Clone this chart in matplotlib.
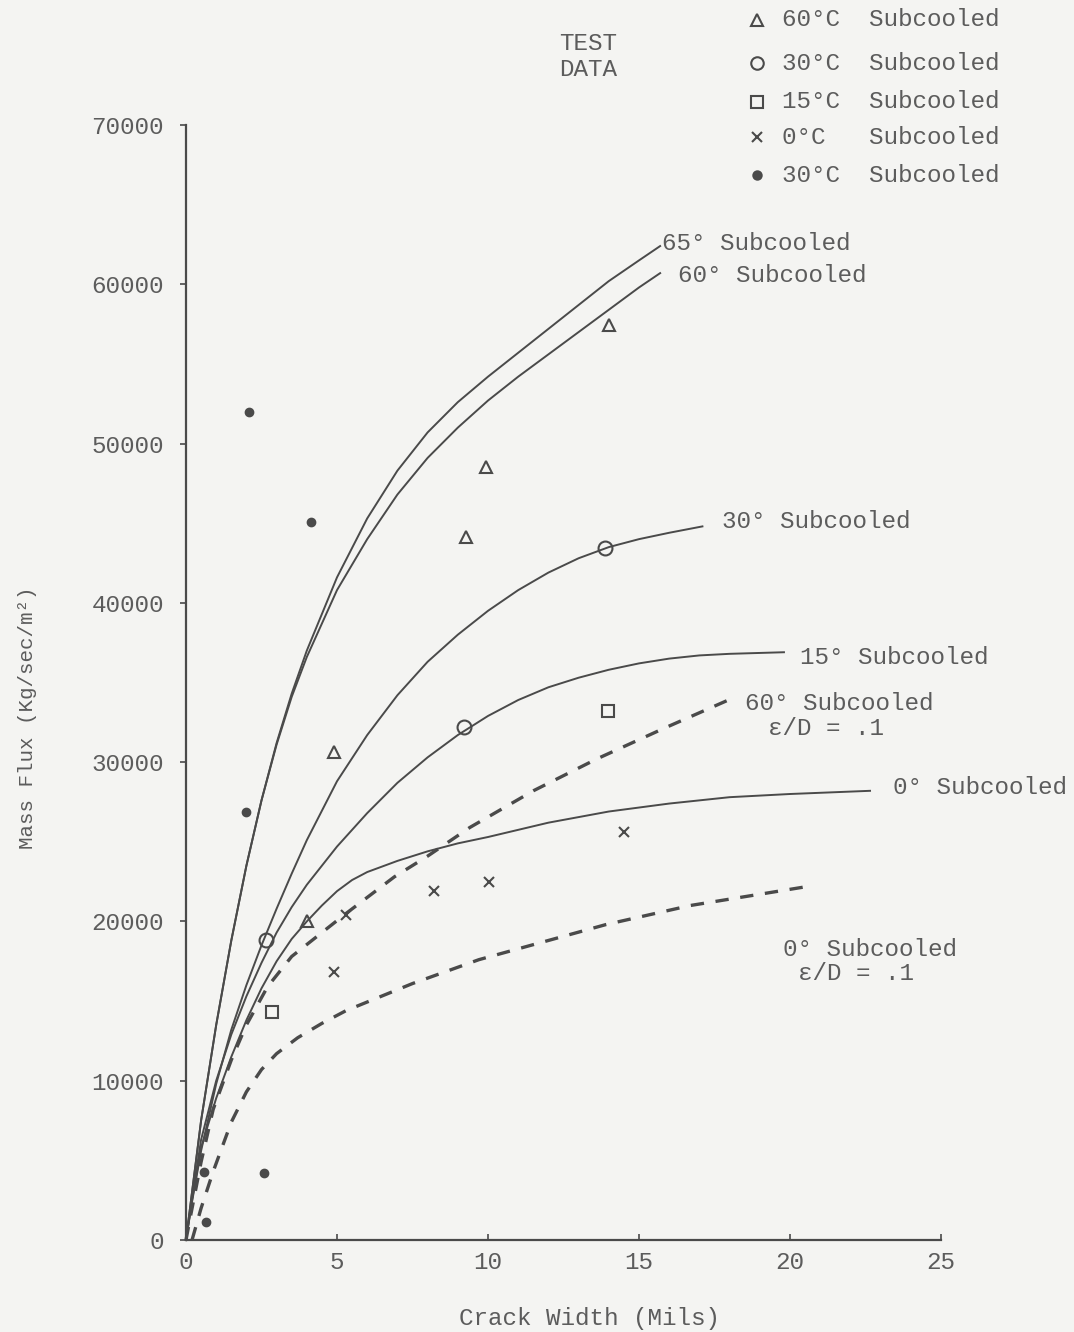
import numpy as np
import matplotlib.pyplot as plt

plt.rcParams['font.family'] = ['Liberation Mono', 'DejaVu Sans Mono']

# model curves (crack width in mils, mass flux in kg/sec/m2)
x65 = [0, 0.2, 0.5, 1.0, 1.5, 2.0, 2.5, 3.0, 3.5, 4.0, 5.0, 6.0, 7.0, 8.0, 9.0, 10.0, 11.0, 12.0, 13.0, 14.0, 15.0, 15.7]
y65 = [0, 3000, 7500, 13500, 18800, 23500, 27600, 31200, 34300, 37000, 41600, 45300, 48300, 50700, 52600, 54200,
       55700, 57200, 58700, 60200, 61500, 62400]
x60 = [0, 0.2, 0.5, 1.0, 1.5, 2.0, 2.5, 3.0, 3.5, 4.0, 5.0, 6.0, 7.0, 8.0, 9.0, 10.0, 11.0, 12.0, 13.0, 14.0, 15.0, 15.7]
y60 = [0, 3000, 7500, 13500, 18800, 23500, 27600, 31100, 34100, 36600, 40800, 44000, 46800, 49100, 51000, 52700,
       54200, 55600, 57000, 58400, 59800, 60700]
x30 = [0, 0.2, 0.5, 1.0, 1.5, 2.0, 2.5, 3.0, 3.5, 4.0, 5.0, 6.0, 7.0, 8.0, 9.0, 10.0, 11.0, 12.0, 13.0, 14.0, 15.0, 16.0, 17.1]
y30 = [0, 2400, 5600, 9800, 13200, 16000, 18500, 20800, 23000, 25100, 28800, 31700, 34200, 36300, 38000, 39500,
       40800, 41900, 42800, 43500, 44000, 44400, 44800]
x15 = [0, 0.2, 0.5, 1.0, 1.5, 2.0, 2.5, 3.0, 3.5, 4.0, 5.0, 6.0, 7.0, 8.0, 9.0, 10.0, 11.0, 12.0, 13.0, 14.0, 15.0, 16.0,
       17.0, 18.0, 19.8]
y15 = [0, 2600, 6300, 10000, 12900, 15300, 17400, 19300, 20900, 22300, 24700, 26800, 28700, 30300, 31700, 32900, 33900,
       34700, 35300, 35800, 36200, 36500, 36700, 36800, 36900]
x0 = [0, 0.2, 0.5, 1.0, 1.5, 2.0, 2.5, 3.0, 3.5, 4.0, 4.5, 5.0, 5.5, 6.0, 7.0, 8.0, 9.0, 10.0, 12.0, 14.0, 16.0, 18.0,
      20.0, 22.65]
y0 = [0, 2500, 5800, 8900, 11500, 13800, 15800, 17500, 18900, 20000, 21000, 21900, 22600, 23100, 23800, 24400, 24900,
      25300, 26200, 26900, 27400, 27800, 28000, 28200]
x60r = [0, 0.15, 0.5, 0.9, 1.5, 2.0, 2.7, 3.5, 4.5, 5.3, 6.9, 8.0, 9.4, 11.5, 13.6, 15.8, 18.2]
y60r = [0, 1500, 4900, 8200, 11300, 13500, 15900, 17800, 19300, 20500, 22800, 24100, 25900, 28200, 30200, 32100, 34100]
x0r = [0.2, 0.5, 0.9, 1.5, 2.0, 2.5, 3.0, 3.7, 4.5, 5.3, 7.5, 9.7, 11.8, 13.9, 16.7, 20.6]
y0r = [0, 2000, 4300, 7400, 9300, 10700, 11700, 12700, 13600, 14400, 16100, 17600, 18700, 19800, 21000, 22200]

# test data
tri_x = [14.0, 9.93, 9.27, 4.9, 4.0]
tri_y = [57440, 48520, 44130, 30630, 20000]
circ_x = [2.65, 9.2, 13.87]
circ_y = [18830, 32200, 43440]
sq_x = [2.85, 13.97]
sq_y = [14310, 33210]
cross_x = [4.9, 8.2, 10.03, 14.5, 5.3]
cross_y = [16820, 21910, 22470, 25610, 20400]
dot_x = [2.09, 4.14, 1.99, 2.58, 0.6, 0.66]
dot_y = [51980, 45070, 26870, 4210, 4270, 1130]

legend_labels = ['60°C  Subcooled', '30°C  Subcooled', '15°C  Subcooled', '0°C   Subcooled', '30°C  Subcooled']

ink = '#4a4a4a'
txt = '#5c5c5c'
bg = '#f4f4f2'
fs = 17.5

fig = plt.figure(figsize=(10.74, 13.32), dpi=100, facecolor=bg)
ax = fig.add_axes([186 / 1074, 1 - 1240 / 1332, 755 / 1074, 1115 / 1332])
ax.set_facecolor(bg)

for xs, ys in [(x65, y65), (x60, y60), (x30, y30), (x15, y15), (x0, y0)]:
    ax.plot(xs, ys, color=ink, lw=1.4, clip_on=False)
for xs, ys in [(x60r, y60r), (x0r, y0r)]:
    ax.plot(xs, ys, color=ink, lw=2.4, dashes=(4, 3.5), clip_on=False)

mk = dict(color=ink, ls='none', mfc='none', mec=ink, mew=1.5, clip_on=False)
ax.plot(tri_x, tri_y, marker='^', ms=9, **mk)
ax.plot(circ_x, circ_y, marker='o', ms=10, **mk)
ax.plot(sq_x, sq_y, marker='s', ms=9, **mk)
ax.plot(cross_x, cross_y, marker='x', ms=7, **mk)
ax.plot(dot_x, dot_y, marker='o', ms=6, color=ink, ls='none', clip_on=False)

# curve labels
tk = dict(color=txt, fontsize=fs, va='center', ha='left')
ax.text(15.76, 62590, '65° Subcooled', **tk)
ax.text(16.29, 60580, '60° Subcooled', **tk)
ax.text(17.75, 45080, '30° Subcooled', **tk)
ax.text(20.33, 36600, '15° Subcooled', **tk)
ax.text(18.5, 33710, '60° Subcooled', **tk)
ax.text(19.27, 32140, 'ε/D = .1', **tk)
ax.text(23.41, 28380, '0° Subcooled', **tk)
ax.text(19.77, 18210, '0° Subcooled', **tk)
ax.text(20.26, 16760, 'ε/D = .1', **tk)

ax.set_xlim(0, 25)
ax.set_ylim(0, 70000)
ax.set_xticks([0, 5, 10, 15, 20, 25])
ax.set_yticks(np.arange(0, 70001, 10000))
ax.set_yticklabels([str(v) for v in range(0, 70001, 10000)])
for s in ['top', 'right']:
    ax.spines[s].set_visible(False)
for s in ['left', 'bottom']:
    ax.spines[s].set_color(ink)
    ax.spines[s].set_linewidth(1.6)
ax.tick_params(axis='y', direction='out', length=4, width=1.2, colors=ink, labelcolor=txt, labelsize=fs, pad=12)
ax.tick_params(axis='x', direction='in', length=4, width=1.2, colors=ink, labelcolor=txt, labelsize=fs, pad=8)

ax.set_xlabel('Crack Width (Mils)', color=txt, fontsize=fs)
ax.xaxis.set_label_coords(0.535, -0.060)
ax.set_ylabel('Mass Flux (Kg/sec/m²)', color=txt, fontsize=15)
ax.yaxis.set_label_coords(-0.197, 0.468)

# legend (test data)
fig.text(588 / 1074, 1 - 44 / 1332, 'TEST', color=txt, fontsize=fs, ha='center', va='center')
fig.text(588 / 1074, 1 - 70 / 1332, 'DATA', color=txt, fontsize=fs, ha='center', va='center')
rows_y = [20, 63, 102, 137, 175]
leg_mk = [dict(marker='^', ms=9, mfc='none'), dict(marker='o', ms=9, mfc='none'), dict(marker='s', ms=9, mfc='none'),
          dict(marker='x', ms=7, mfc='none'), dict(marker='o', ms=6, mfc=ink)]
for py, lab, m in zip(rows_y, legend_labels, leg_mk):
    fy = 1 - py / 1332
    ax.plot([757 / 1074], [fy], transform=fig.transFigure, clip_on=False, color=ink, mec=ink, mew=1.5, ls='none', **m)
    fig.text(782 / 1074, fy, lab, color=txt, fontsize=fs, ha='left', va='center')

fig.savefig('out.png', dpi=100, facecolor=bg)
